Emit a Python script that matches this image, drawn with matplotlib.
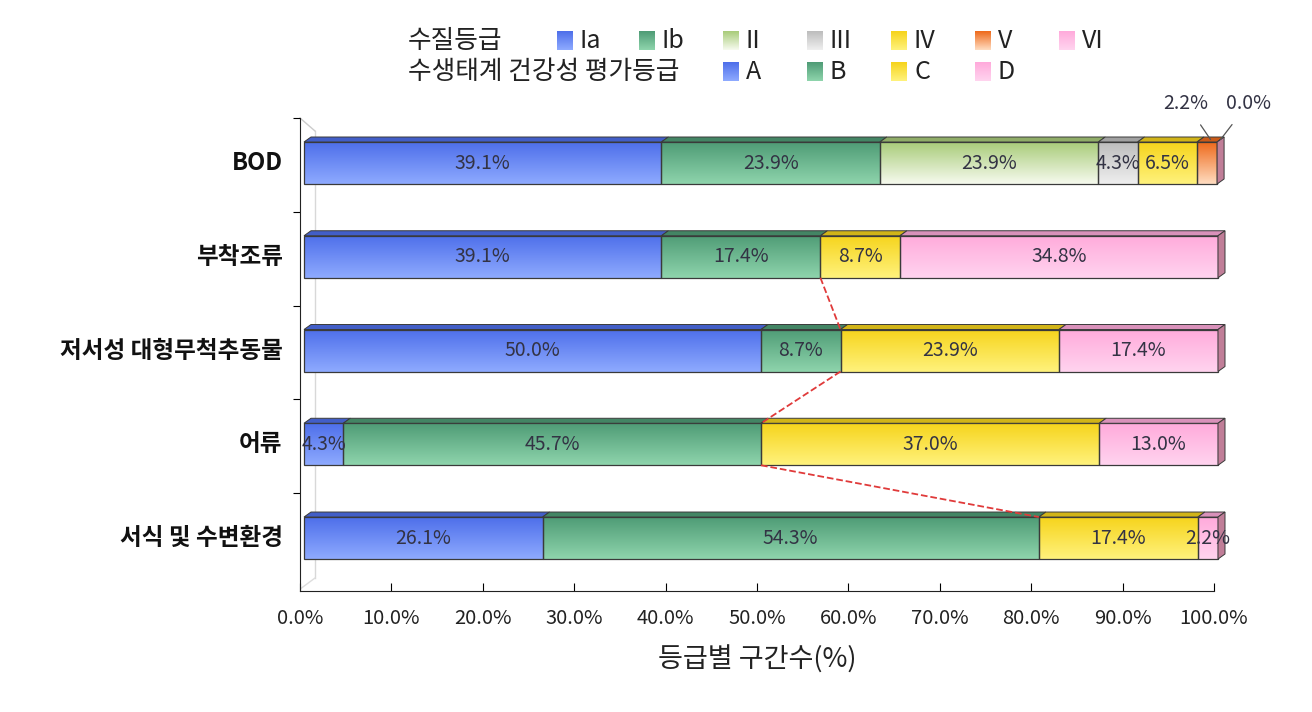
import numpy as np
import matplotlib
matplotlib.use('Agg')
import matplotlib.pyplot as plt
from matplotlib.patches import Rectangle, Polygon
from matplotlib.colors import to_rgb

plt.rcParams['font.family'] = ['Noto Sans CJK KR', 'DejaVu Sans']

# data
categories = ['BOD', '부착조류', '저서성 대형무척추동물', '어류', '서식 및 수변환경']
bod = [39.1, 23.9, 23.9, 4.3, 6.5, 2.2, 0.0]
algae = [39.1, 17.4, 8.7, 34.8]
benthic = [50.0, 8.7, 23.9, 17.4]
fish = [4.3, 45.7, 37.0, 13.0]
habitat = [26.1, 54.3, 17.4, 2.2]
wq_grades = ['Ia', 'Ib', 'II', 'III', 'IV', 'V', 'VI']
eco_grades = ['A', 'B', 'C', 'D']
xticks = [0, 10, 20, 30, 40, 50, 60, 70, 80, 90, 100]

# colours (top, bottom of gradient)
wq_cols = [('#4e6fea', '#8eaaff'), ('#4f9c76', '#8ed4ac'), ('#a9cc7a', '#f6faee'),
           ('#bdbdbd', '#efefef'), ('#f6d41c', '#fff27c'), ('#ee6a1c', '#ffdcc0'),
           ('#ffaadb', '#ffd4ef')]
eco_cols = [wq_cols[0], wq_cols[1], wq_cols[4], wq_cols[6]]

W, H = 1312, 712
fig = plt.figure(figsize=(W / 100, H / 100), dpi=100)
px = 9.14  # pixels per percent
ax_l, ax_b, ax_t = 300, 591, 118
xmax = 101.8
ax = fig.add_axes([ax_l / W, (H - ax_b) / H, xmax * px / W, (ax_b - ax_t) / H])
ylo, yhi = -0.565, 4.48
ax.set_xlim(0, xmax)
ax.set_ylim(ylo, yhi)
ppu = (ax_b - ax_t) / (yhi - ylo)

off = 4 / px      # bars start slightly right of axis
dx = 7 / px
dy = 5 / ppu
h = 42 / ppu
edge = '#3a3a3a'
txt = '#333344'


def darker(c, f=0.8):
    return tuple(np.array(to_rgb(c)) * f)


def seg(x0, x1, yc, ctop, cbot):
    y0, y1 = yc - h / 2, yc + h / 2
    t = np.linspace(0, 1, 64)[:, None, None]
    img = (1 - t) * np.array(to_rgb(ctop)) + t * np.array(to_rgb(cbot))
    if x1 > x0:
        ax.imshow(img, extent=[x0, x1, y0, y1], aspect='auto', origin='upper',
                  interpolation='bilinear', zorder=2)
    ax.add_patch(Rectangle((x0, y0), x1 - x0, y1 - y0, fill=False, ec=edge, lw=0.9, zorder=3))
    ax.add_patch(Polygon([(x0, y1), (x1, y1), (x1 + dx, y1 + dy), (x0 + dx, y1 + dy)],
                         closed=True, fc=darker(ctop, 0.85), ec=edge, lw=0.7, zorder=3))


def right_face(x1, yc, c):
    y0, y1 = yc - h / 2, yc + h / 2
    ax.add_patch(Polygon([(x1, y0), (x1 + dx, y0 + dy), (x1 + dx, y1 + dy), (x1, y1)],
                         closed=True, fc=c, ec=edge, lw=0.7, zorder=3))


rows = [bod, algae, benthic, fish, habitat]
ypos = [4, 3, 2, 1, 0]
for vals, yc in zip(rows, ypos):
    cols = wq_cols if len(vals) == 7 else eco_cols
    left = off
    for i, v in enumerate(vals):
        seg(left, left + v, yc, cols[i][0], cols[i][1])
        if v >= 2.0 and not (len(vals) == 7 and i == 5):
            ax.text(left + v / 2, yc, '%.1f%%' % v, ha='center', va='center',
                    fontsize=14, color=txt, zorder=5)
        left += v
    right_face(left, yc, '#c07e98')

# small BOD labels with leaders
bod_cum = np.cumsum(bod) + off
ax.annotate('2.2%', xy=(bod_cum[5] - bod[5] / 2 + dx / 2, 4 + h / 2 + dy / 2),
            xytext=(bod_cum[5] - 3.4, 4 + h / 2 + 0.41), ha='center', va='center',
            fontsize=14, color=txt,
            arrowprops=dict(arrowstyle='-', color='#555555', lw=0.9, shrinkA=7, shrinkB=0),
            annotation_clip=False)
ax.annotate('0.0%', xy=(bod_cum[6] + dx / 2, 4 + h / 2 + dy / 2),
            xytext=(bod_cum[6] + 3.4, 4 + h / 2 + 0.41), ha='center', va='center',
            fontsize=14, color=txt,
            arrowprops=dict(arrowstyle='-', color='#555555', lw=0.9, shrinkA=7, shrinkB=0),
            annotation_clip=False)

# red dashed connectors between B/C boundaries
eco_rows = [algae, benthic, fish, habitat]
eco_y = [3, 2, 1, 0]
ab = [r[0] + r[1] + off for r in eco_rows]
for i in range(len(eco_rows) - 1):
    ax.plot([ab[i], ab[i + 1]], [eco_y[i] - h / 2, eco_y[i + 1] + h / 2],
            color='#e03a3a', ls='--', lw=1.3, zorder=6)

# back wall hints
wx = 15 / px
wy = 13 / ppu
ax.plot([wx, wx], [ylo + wy, yhi - wy], color='#d8d8d8', lw=1, zorder=1)
ax.plot([0, wx], [yhi, yhi - wy], color='#cccccc', lw=1, zorder=1, clip_on=False)
ax.plot([0, wx], [ylo + 0.02, ylo + wy], color='#dddddd', lw=1, zorder=1)

# axes styling
for s in ['top', 'right']:
    ax.spines[s].set_visible(False)
ax.spines['bottom'].set_bounds(0, 100)
ax.spines['left'].set_color('#222222')
ax.spines['bottom'].set_color('#222222')
ax.set_xticks(xticks)
ax.set_xticklabels(['%.1f%%' % t for t in xticks], fontsize=14.5, color='#222222')
ax.tick_params(axis='x', direction='in', length=6, pad=12)
ax.set_yticks([0.48, 1.48, 2.48, 3.48, 4.48])
ax.set_yticklabels([])
ax.tick_params(axis='y', direction='out', length=5)
for c, yc in zip(categories, ypos):
    ax.text(-1.9, yc, c, ha='right', va='center', fontsize=17, fontweight='bold', color='#111111')
ax.set_xlabel('등급별 구간수(%)', fontsize=19.5, color='#222222')
ax.xaxis.set_label_coords(50 / xmax, -0.115)

# legend (custom, two rows)
def leg_item(x, y, ctop, cbot, label):
    lax = fig.add_axes([x / W, (H - y - 9) / H, 16 / W, 19 / H])
    t = np.linspace(0, 1, 32)[:, None, None]
    img = (1 - t) * np.array(to_rgb(ctop)) + t * np.array(to_rgb(cbot))
    lax.imshow(img, aspect='auto', extent=[0, 1, 0, 1])
    lax.axis('off')
    fig.text((x + 23) / W, (H - y) / H, label, ha='left', va='center', fontsize=18, color='#222222')


fig.text(408 / W, (H - 41) / H, '수질등급', ha='left', va='center', fontsize=18.5, color='#222222')
fig.text(408 / W, (H - 72) / H, '수생태계 건강성 평가등급', ha='left', va='center', fontsize=18.5, color='#222222')
wq_x = [557, 639, 723, 807, 891, 975, 1059]
for x, g, c in zip(wq_x, wq_grades, wq_cols):
    leg_item(x, 41, c[0], c[1], g)
eco_x = [723, 807, 891, 975]
for x, g, c in zip(eco_x, eco_grades, eco_cols):
    leg_item(x, 72, c[0], c[1], g)

fig.savefig('out.png', dpi=100)
